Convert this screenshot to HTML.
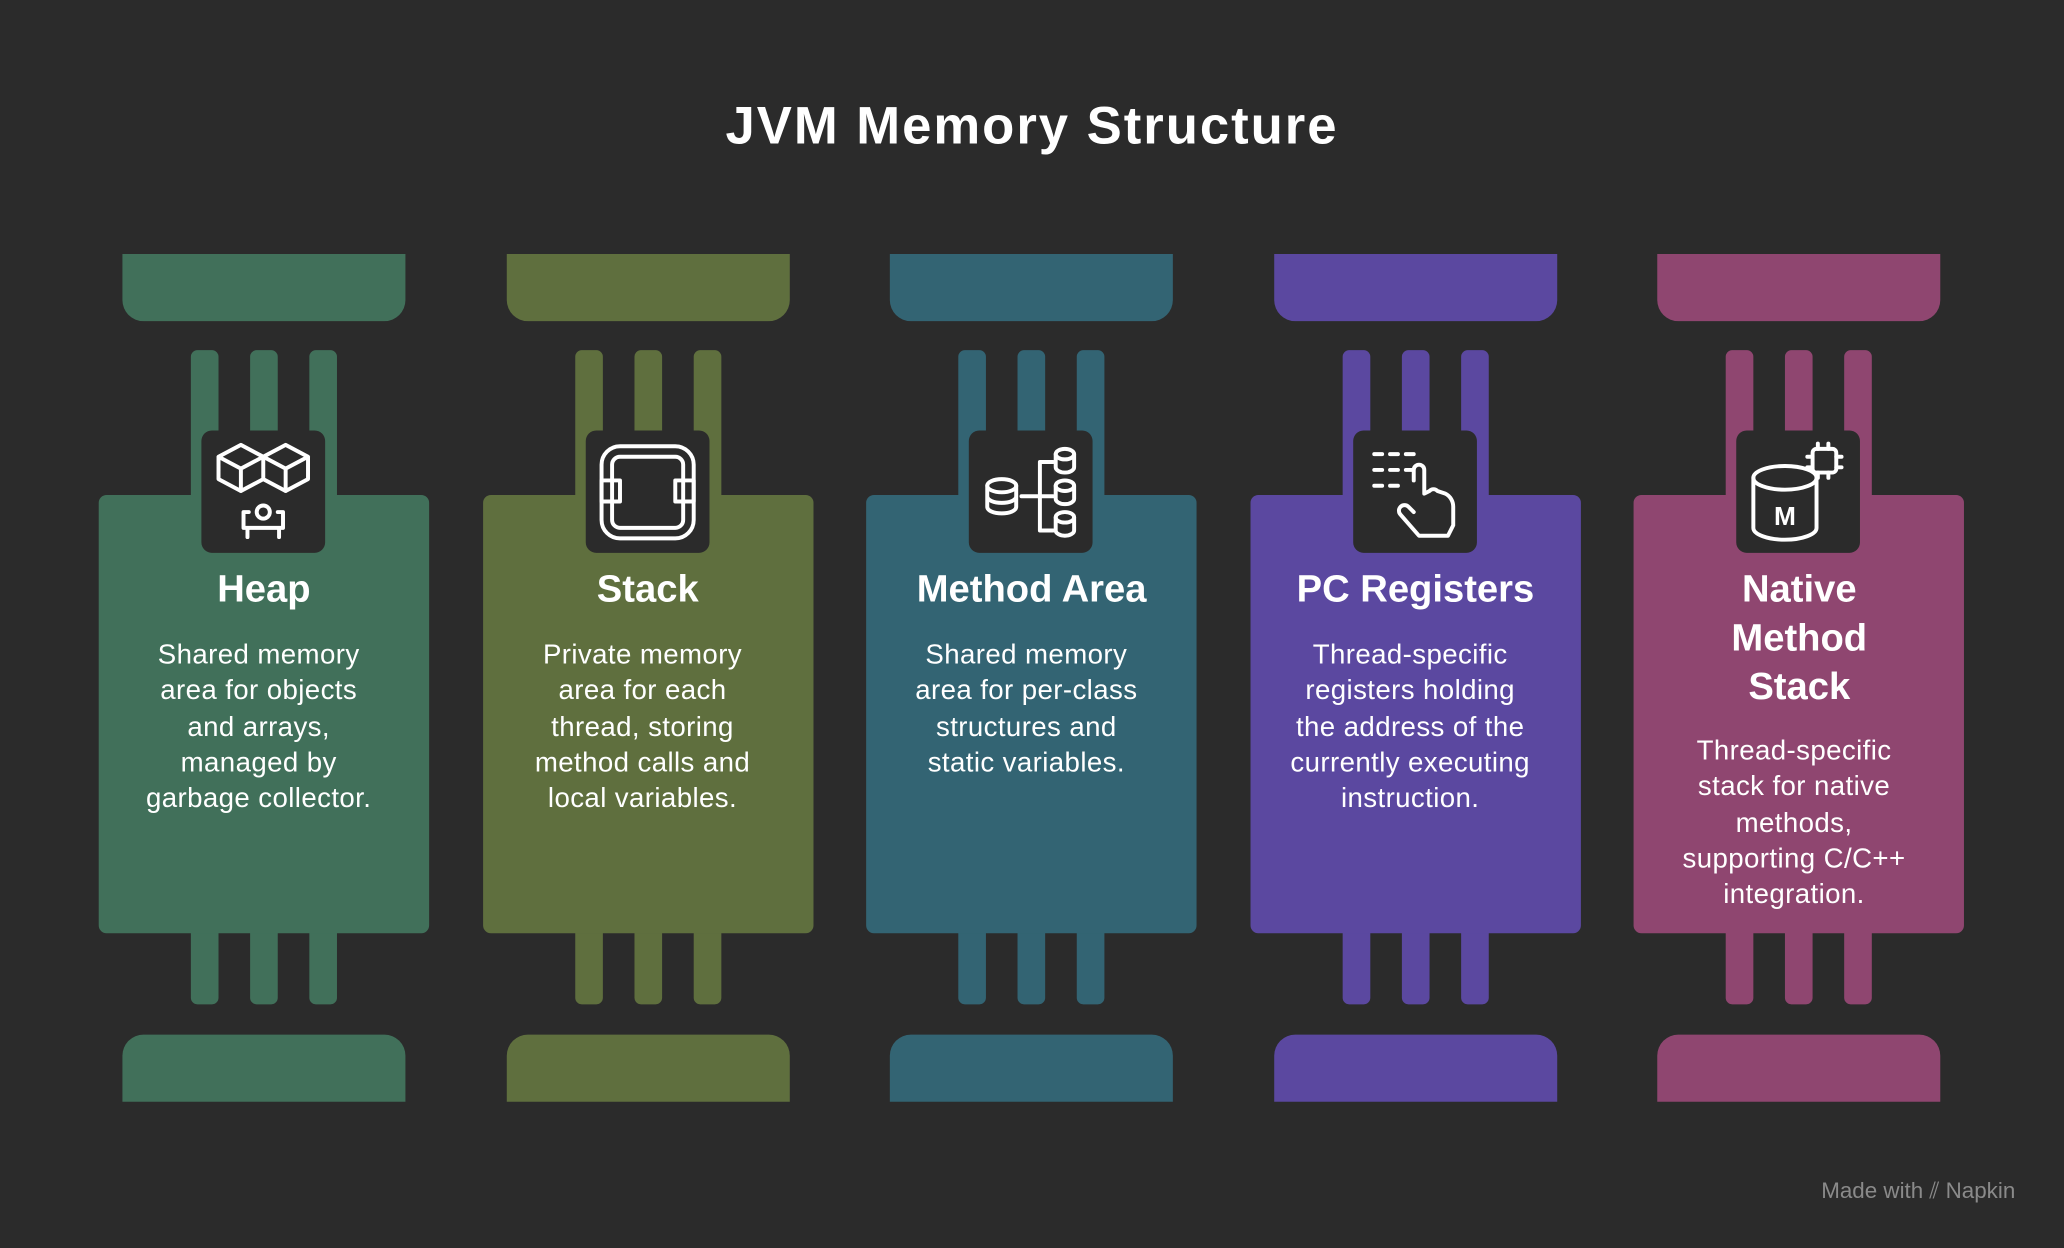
<!DOCTYPE html>
<html><head><meta charset="utf-8"><style>
html,body{margin:0;padding:0;background:#2b2b2b;}
#wrap{width:2064px;height:1248px;overflow:hidden;position:relative;background:#2b2b2b;}
#s{position:absolute;left:0;top:0;width:1568px;height:948px;transform:scale(1.31633);transform-origin:0 0;font-family:"Liberation Sans",sans-serif;color:#fff;}
.a{position:absolute;}
.title{left:0;width:1568px;top:74px;text-align:center;font-size:40px;font-weight:bold;letter-spacing:1.5px;}
.cap{width:215px;height:51px;}
.bar{width:21px;border-radius:5px;}
.box{width:251px;height:333px;border-radius:6px;}
.ic{width:94px;height:93px;background:#2b2b2b;border-radius:8px;}
.h{width:251px;text-align:center;font-size:29px;font-weight:bold;line-height:37px;}
.t{width:251px;text-align:center;font-size:21px;line-height:27.3px;letter-spacing:0.3px;}
.foot{right:37px;top:895px;font-size:17px;color:#8a8a8a;}
</style></head><body><div id="wrap"><div id="s">
<div class="a title">JVM Memory Structure</div>
<div id="cols"></div>
<div class="a foot">Made with ⫽ Napkin</div>
</div></div>
<script>
var cols=[
["#41705a","Heap","Shared memory<br>area for objects<br>and arrays,<br>managed by<br>garbage collector.",'<path d="M13 20l17-9 17 9v17l-17 9-17-9zM13 20l17 9 17-9M30 29v17M47 20l17-9 17 9v17l-17 9-17-9zM47 20l17 9 17-9M64 29v17"/><circle cx="47" cy="62" r="5"/><path d="M36 62h-4v12h30v-12h-4M35 74v7M59 74v7"/>'],
["#5f6f3e","Stack","Private memory<br>area for each<br>thread, storing<br>method calls and<br>local variables.",'<rect x="12" y="12" width="70" height="70" rx="14"/><rect x="20" y="20" width="54" height="54" rx="6"/><rect x="12" y="38" width="14" height="16"/><rect x="68" y="38" width="14" height="16"/>'],
["#336473","Method Area","Shared memory<br>area for per-class<br>structures and<br>static variables.",'<ellipse cx="25" cy="42" rx="11" ry="5"/><path d="M14 42v16c0 3 5 5 11 5s11-2 11-5V42M14 50c0 3 5 5 11 5s11-2 11-5"/><ellipse cx="73" cy="18" rx="7" ry="4"/><path d="M66 18v10c0 2 3 4 7 4s7-2 7-4V18"/><ellipse cx="73" cy="42" rx="7" ry="4"/><path d="M66 42v10c0 2 3 4 7 4s7-2 7-4V42"/><ellipse cx="73" cy="66" rx="7" ry="4"/><path d="M66 66v10c0 2 3 4 7 4s7-2 7-4V66M40 50h14M54 24v52M54 24h10M54 76h10M54 50h10"/>'],
["#5b48a0","PC Registers","Thread-specific<br>registers holding<br>the address of the<br>currently executing<br>instruction.",'<path d="M16 18h6M28 18h6M40 18h6M16 30h6M28 30h6M40 30h6M16 42h6M28 42h6M46 38v-8a4 4 0 0 1 8 0v18l4-2a4 4 0 0 1 6 0l6 2c4 2 6 6 6 10v14l-4 8H50l-14-16a4 4 0 0 1 6-6l4 4"/>'],
["#8f4670","Native<br>Method<br>Stack","Thread-specific<br>stack for native<br>methods,<br>supporting C/C++<br>integration.",'<ellipse cx="37" cy="36" rx="24" ry="9"/><path d="M13 36v38c0 5 11 9 24 9s24-4 24-9V36"/><text x="37" y="72" font-size="20" text-anchor="middle" fill="#fff" stroke="none" font-family="Liberation Sans" font-weight="bold">M</text><rect x="58" y="14" width="18" height="18" rx="3"/><path d="M62 10v4M70 10v4M62 32v4M70 32v4M54 20h4M54 28h4M76 20h4M76 28h4"/>']
];
var h='';
cols.forEach(function(c,i){
var x=75+i*291.6;var col=c[0];
h+='<div class="a cap" style="left:'+(x+18)+'px;top:193px;background:'+col+';border-radius:0 0 16px 16px"></div>';
h+='<div class="a cap" style="left:'+(x+18)+'px;top:786px;background:'+col+';border-radius:16px 16px 0 0"></div>';
[70,115,160].forEach(function(b){
h+='<div class="a bar" style="left:'+(x+b)+'px;top:266px;height:120px;background:'+col+'"></div>';
h+='<div class="a bar" style="left:'+(x+b)+'px;top:703px;height:60px;background:'+col+'"></div>';});
h+='<div class="a box" style="left:'+x+'px;top:376px;background:'+col+'"></div>';
h+='<div class="a ic" style="left:'+(x+78)+'px;top:327px"><svg width="94" height="93" viewBox="0 0 94 93" fill="none" stroke="#fff" stroke-width="3" stroke-linecap="round" stroke-linejoin="round">'+c[3]+'</svg></div>';
var n=(c[1].match(/<br>/g)||[]).length+1;
h+='<div class="a h" style="left:'+x+'px;top:430px">'+c[1]+'</div>';
h+='<div class="a t" style="left:'+(x-4)+'px;top:'+(484+(n-1)*36.5)+'px">'+c[2]+'</div>';
});
document.getElementById('cols').innerHTML=h;
</script>
</body></html>
